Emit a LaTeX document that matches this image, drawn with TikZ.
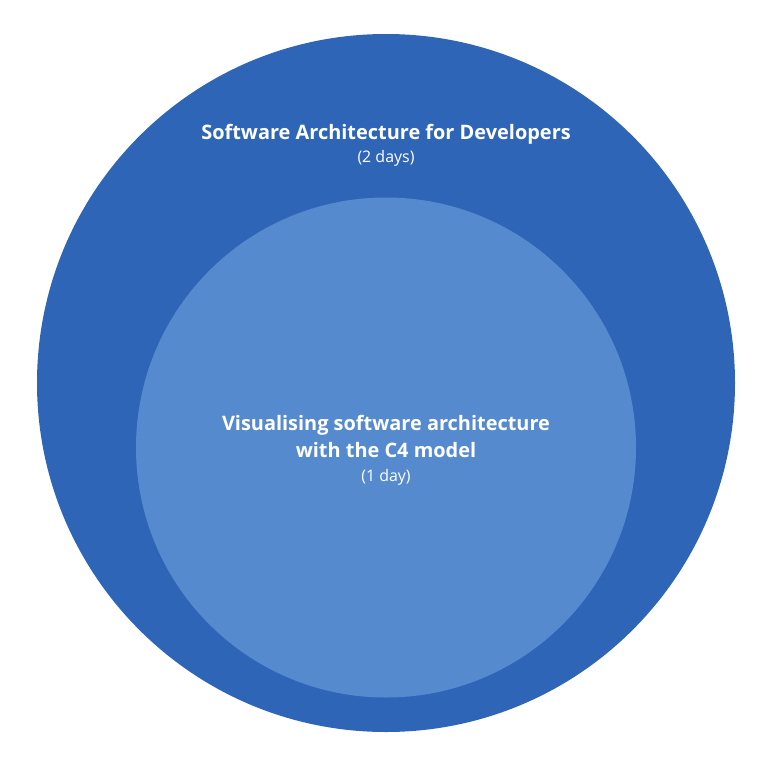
\documentclass[tikz,border=0pt]{standalone}
\usepackage{fontspec}
\setmainfont{Open Sans}
\definecolor{outerblue}{HTML}{2F65B7}
\definecolor{innerblue}{HTML}{558ACF}
\begin{document}
\begin{tikzpicture}[x=1bp,y=-1bp,
  circ/.style={draw=none},
  title/.style={text=white,inner sep=0pt,anchor=base,font=\fontsize{20}{24}\selectfont\bfseries},
  sub/.style={text=white,inner sep=0pt,anchor=base,font=\fontsize{16}{19}\selectfont}]
\useasboundingbox (0,0) rectangle (768,768);
\fill[outerblue] (386,383) circle[radius=349] node[circ] (outer) {};
\fill[innerblue] (386,447.5) circle[radius=250] node[circ] (inner) {};
\node[title] (t1) at (386,139) {Software Architecture for Developers};
\node[sub] (s1) at (386,162) {(2 days)};
\node[title] (t2) at (386,430) {Visualising software architecture};
\node[title] (t3) at (386,457) {with the C4 model};
\node[sub] (s2) at (386,481) {(1 day)};
\end{tikzpicture}
\end{document}
